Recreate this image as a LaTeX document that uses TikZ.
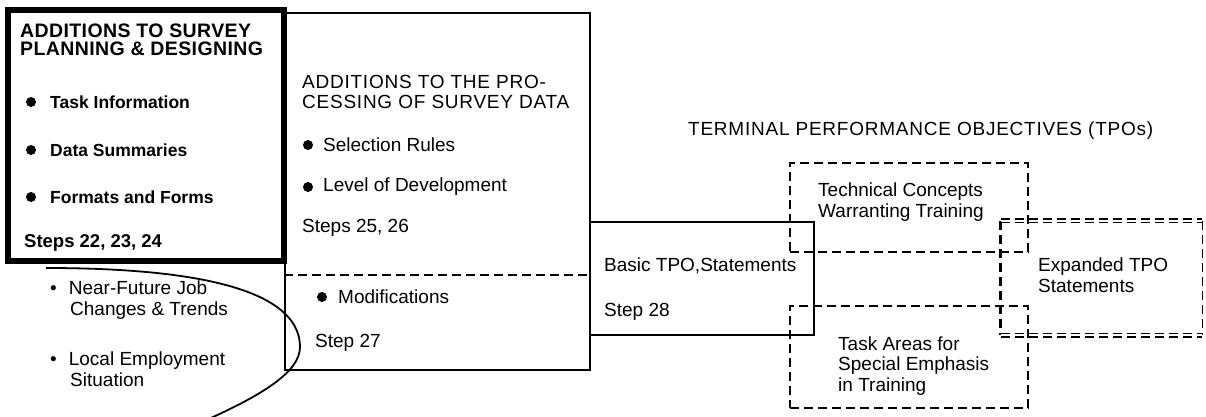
\documentclass[tikz,border=0pt]{standalone}
\usepackage{fontspec}
\setmainfont{Liberation Sans}
\usetikzlibrary{fit}

\begin{document}
\begin{tikzpicture}[x=1pt,y=-1pt]
		\tikzstyle{heavybox}=[draw=black, line width=6pt, inner sep=0pt]
		\tikzstyle{plainbox}=[draw=black, line width=1.8pt, inner sep=0pt]
		\tikzstyle{dashbox}=[draw=black, line width=1.8pt, dash pattern=on 9pt off 5pt, inner sep=0pt]
		\tikzstyle{txt}=[anchor=west, inner sep=0pt, align=left, font=\fontsize{19}{21.5}\selectfont]
		\tikzstyle{boldtxt}=[txt, font=\fontsize{17.5}{17.5}\selectfont\bfseries]
		\tikzstyle{headtxt}=[txt, font=\fontsize{19}{20.5}\selectfont\addfontfeatures{LetterSpace=4}]
		\tikzstyle{boldhead}=[txt, font=\fontsize{19.5}{17.5}\selectfont\bfseries\addfontfeatures{LetterSpace=2}]
		\tikzstyle{bulletdot}=[circle, fill=black, inner sep=0pt, minimum size=10pt]

		\useasboundingbox (0,0) rectangle (1206,416);

		% planning and designing
		\node (plan) [heavybox, fit={(8,10) (284,261)}] {};
		\node (planhead) [boldhead] at (20,40) {ADDITIONS TO SURVEY\\PLANNING \& DESIGNING};
		\node (dot1) [bulletdot] at (31,102) {};
		\node (taskinfo) [boldtxt] at (50,102) {Task Information};
		\node (dot2) [bulletdot] at (31,150) {};
		\node (datasum) [boldtxt] at (50,150) {Data Summaries};
		\node (dot3) [bulletdot] at (31,197) {};
		\node (forms) [boldtxt] at (50,197) {Formats and Forms};
		\node (steps22) [boldtxt, font=\fontsize{18.5}{18.5}\selectfont\bfseries] at (24,243) {Steps 22, 23, 24};

		% processing of survey data
		\node (proc) [plainbox, fit={(285,13) (590,370)}] {};
		\draw [dashbox] (proc.west |- 0,275) -- (proc.east |- 0,275);
		\node (prochead) [headtxt] at (302,92) {ADDITIONS TO THE PRO-\\CESSING OF SURVEY DATA};
		\node (dot4) [bulletdot] at (308,145) {};
		\node (selrules) [txt] at (323,145) {Selection Rules};
		\node (dot5) [bulletdot] at (308,187) {};
		\node (level) [txt] at (323,187) {Level of Development};
		\node (steps25) [txt] at (302,228) {Steps 25, 26};
		\node (dot6) [bulletdot] at (322,297) {};
		\node (modif) [txt] at (338,297) {Modifications};
		\node (step27) [txt] at (315,343) {Step 27};

		% outside influences
		\draw [line width=1.8pt] (46,268) .. controls (230,268) and (300,300) .. (300,347)
			.. controls (300,372) and (262,396) .. (195,425);
		\node (near) [txt] at (50,300) {\textbullet\hspace{12pt}Near-Future Job\\\hspace{20pt}Changes \& Trends};
		\node (local) [txt] at (50,369) {\textbullet\hspace{12pt}Local Employment\\\hspace{20pt}Situation};

		% basic statements
		\node (basic) [plainbox, fit={(590,222) (814,335)}] {};
		\node (basictxt) [txt] at (604,266) {Basic TPO,Statements};
		\node (step28) [txt] at (604,312) {Step 28};

		\node (tpos) [headtxt] at (688,131) {TERMINAL PERFORMANCE OBJECTIVES (TPOs)};

		% technical concepts and task areas
		\node (tech) [dashbox, fit={(790,163) (1028,252)}] {};
		\node (techtxt) [txt] at (818,202) {Technical Concepts\\Warranting Training};
		\node (task) [dashbox, fit={(790,306) (1028,408)}] {};
		\node (tasktxt) [txt, font=\fontsize{19}{20.5}\selectfont] at (838,366) {Task Areas for\\Special Emphasis\\in Training};

		% expanded statements
		\node (expanded) [inner sep=0pt, fit={(1001,221) (1202,335)}] {};
		\draw [dashbox, line width=3.2pt] (expanded.north west) -- (expanded.south west);
		\draw [dashbox, line width=1.3pt] (expanded.north east) -- (expanded.south east);
		\draw [dashbox, line width=1.5pt, double, double distance=2.2pt] (expanded.north west) -- (expanded.north east);
		\draw [dashbox, line width=1.5pt, double, double distance=2.2pt] (expanded.south west) -- (expanded.south east);
		\node (exptxt) [txt] at (1038,275) {Expanded TPO\\Statements};

	\end{tikzpicture}
\end{document}
